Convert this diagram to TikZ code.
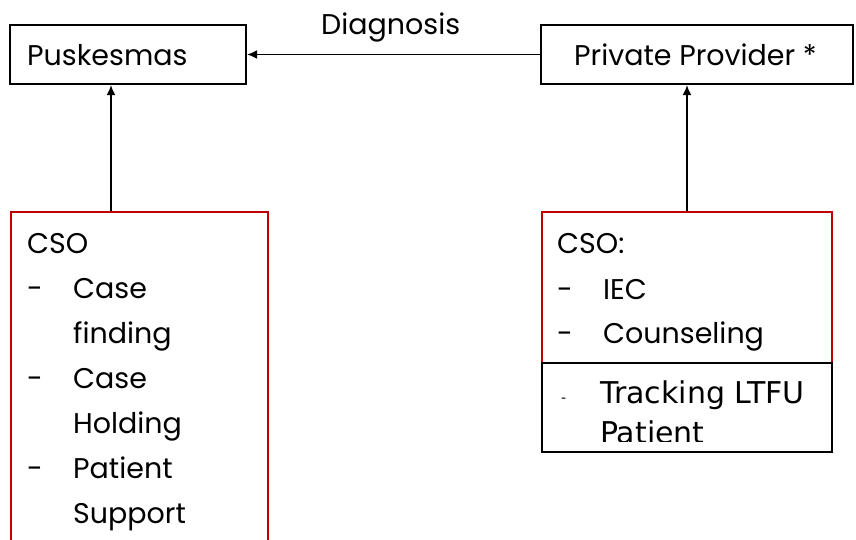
\documentclass[tikz,border=0pt]{standalone}
\usepackage{fontspec}
\setmainfont{Poppins}
\newfontfamily\dvfont{DejaVu Sans}
\usetikzlibrary{arrows.meta}
\definecolor{csored}{RGB}{192,0,0}
\tikzset{
  topbox/.style={draw=black, line width=2.2pt, minimum height=59pt, inner sep=0pt},
  csobox/.style={draw=csored, line width=2pt, inner sep=0pt},
  trackbox/.style={draw=black, line width=2pt, inner sep=0pt},
  arr/.style={line width=1.6pt, -{Latex[length=10pt,width=9pt]}},
  lbl/.style={font=\fontsize{28.5}{32}\selectfont, inner sep=0pt, anchor=base west},
  dvlbl/.style={font=\dvfont\fontsize{30}{32}\selectfont, inner sep=0pt, anchor=base west},
}
\begin{document}
\begin{tikzpicture}[x=1pt,y=-1pt]
\useasboundingbox (0,0) rectangle (856,540);
% top boxes
\node[topbox, minimum width=236pt] (puske) at (128,54.5) {};
\node[lbl] (tpus) at (27,66) {Puskesmas};
\node[topbox, minimum width=312pt] (pp) at (697,54.5) {};
\node[lbl] (tpp) at (574,66) {Private Provider *};
\node[lbl] (tdiag) at (321,35) {Diagnosis};
\draw[arr] (pp.west) -- (puske.east);
% left CSO box
\node[csobox, minimum width=257pt, minimum height=360pt, anchor=north west] (cso1) at (10,211) {};
\node[lbl] (l1) at (27,253) {CSO};
\node[lbl] (l2d) at (27,298) {-};
\node[lbl] (l2) at (73,298) {Case};
\node[lbl] (l3) at (73,343) {finding};
\node[lbl] (l4d) at (27,388) {-};
\node[lbl] (l4) at (73,388) {Case};
\node[lbl] (l5) at (73,433) {Holding};
\node[lbl] (l6d) at (27,478) {-};
\node[lbl] (l6) at (73,478) {Patient};
\node[lbl] (l7) at (73,523) {Support};
\coordinate (a1) at (111,211);
\draw[arr] (a1) -- (a1 |- puske.south);
% right CSO box
\node[csobox, minimum width=290pt, minimum height=151pt, anchor=north west] (cso2) at (541,211) {};
\node[lbl] (r1) at (557,253) {CSO:};
\node[lbl] (r2d) at (557,299) {-};
\node[lbl] (r2) at (603,299) {IEC};
\node[lbl] (r3d) at (557,343) {-};
\node[lbl] (r3) at (603,343) {Counseling};
\node[trackbox, minimum width=290pt, minimum height=89pt, anchor=north west] (trk) at (541,362) {};
\begin{scope}
\clip (541,362) rectangle (831,441);
\node[font=\dvfont\fontsize{14}{16}\selectfont, inner sep=0pt, anchor=base west] (t1d) at (561,402) {-};
\node[dvlbl] (t1) at (600,403) {Tracking LTFU};
\node[dvlbl] (t2) at (600,443) {Patient};
\end{scope}
\draw[arr] (cso2.north) -- (cso2.north |- pp.south);
\end{tikzpicture}
\end{document}
